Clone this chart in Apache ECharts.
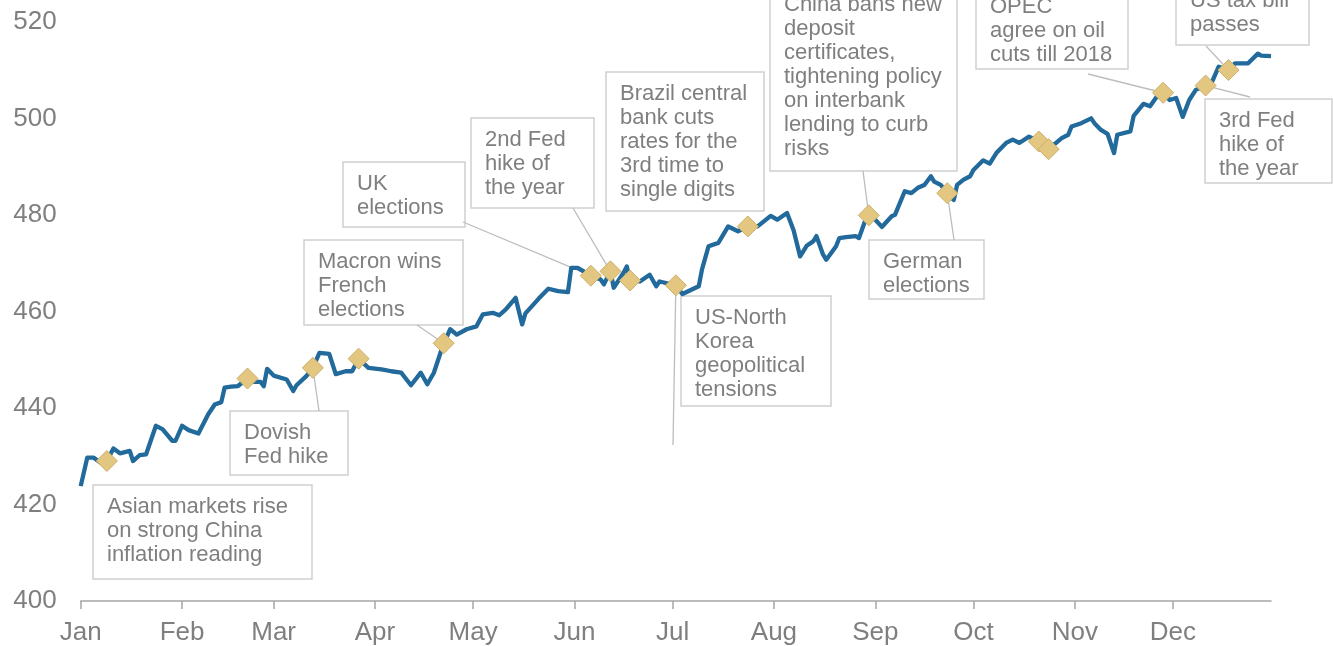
<!DOCTYPE html>
<html>
<head>
<meta charset="utf-8">
<script src="https://cdn.jsdelivr.net/npm/echarts@6/dist/echarts.min.js"></script>
<style>
  html, body { margin: 0; padding: 0; background: #fff; }
  #chart { width: 1333px; height: 646px; }
</style>
</head>
<body>
<div id="chart"></div>
<script>
// Index level through 2017
const dates = [
  '2017-01-01','2017-01-03','2017-01-05','2017-01-07','2017-01-09','2017-01-11','2017-01-13','2017-01-16',
  '2017-01-17','2017-01-19','2017-01-21','2017-01-24','2017-01-26','2017-01-29','2017-01-30',
  '2017-02-01','2017-02-03','2017-02-06','2017-02-09','2017-02-11','2017-02-13','2017-02-14','2017-02-16',
  '2017-02-18','2017-02-21','2017-02-23','2017-02-25','2017-02-26','2017-02-27',
  '2017-03-01','2017-03-05','2017-03-07','2017-03-08','2017-03-11','2017-03-13','2017-03-15','2017-03-18',
  '2017-03-20','2017-03-23','2017-03-25','2017-03-27','2017-03-30',
  '2017-04-03','2017-04-06','2017-04-09','2017-04-12','2017-04-15','2017-04-17','2017-04-19','2017-04-22',
  '2017-04-24','2017-04-26','2017-04-29',
  '2017-05-02','2017-05-04','2017-05-07','2017-05-09','2017-05-11','2017-05-14','2017-05-16','2017-05-17',
  '2017-05-21','2017-05-24','2017-05-27','2017-05-30','2017-05-31',
  '2017-06-02','2017-06-06','2017-06-09','2017-06-10','2017-06-11','2017-06-12','2017-06-13','2017-06-16',
  '2017-06-17','2017-06-18','2017-06-21','2017-06-24','2017-06-26','2017-06-27',
  '2017-07-02','2017-07-04','2017-07-09','2017-07-10','2017-07-12','2017-07-15','2017-07-18','2017-07-21',
  '2017-07-24','2017-07-27','2017-07-31',
  '2017-08-02','2017-08-05','2017-08-07','2017-08-09','2017-08-11','2017-08-13','2017-08-14','2017-08-16',
  '2017-08-17','2017-08-20','2017-08-21','2017-08-23','2017-08-26','2017-08-27','2017-08-29','2017-08-30',
  '2017-09-01','2017-09-03','2017-09-06','2017-09-07','2017-09-10','2017-09-12','2017-09-14','2017-09-16',
  '2017-09-18','2017-09-19','2017-09-21','2017-09-23','2017-09-25','2017-09-26','2017-09-28','2017-09-30',
  '2017-10-01','2017-10-04','2017-10-06','2017-10-08','2017-10-11','2017-10-13','2017-10-15','2017-10-18',
  '2017-10-19','2017-10-21','2017-10-24','2017-10-28','2017-10-30','2017-10-31',
  '2017-11-03','2017-11-06','2017-11-07','2017-11-09','2017-11-11','2017-11-13','2017-11-14','2017-11-18',
  '2017-11-19','2017-11-22','2017-11-24','2017-11-26','2017-11-28','2017-11-30',
  '2017-12-02','2017-12-04','2017-12-06','2017-12-08','2017-12-11','2017-12-13','2017-12-15','2017-12-18',
  '2017-12-20','2017-12-24','2017-12-27','2017-12-28','2017-12-31'
];
const values = [
  423.8,429.7,429.7,428.7,429.0,431.6,430.6,431.1,
  429.0,430.2,430.4,436.3,435.6,433.2,433.2,
  436.3,435.4,434.7,438.7,440.7,441.2,444.2,444.4,
  444.5,446.1,445.4,445.4,444.5,448.1,
  446.7,445.9,443.5,444.7,446.6,448.3,451.4,451.2,
  447.0,447.6,447.6,450.2,448.3,
  448.0,447.6,447.3,444.7,447.3,444.9,447.3,453.4,
  456.3,455.2,456.3,
  456.9,459.4,459.7,459.2,460.4,462.8,457.3,459.6,
  462.6,464.7,464.2,464.0,469.0,
  469.0,467.4,466.6,465.6,467.0,468.3,464.9,468.0,
  469.3,466.4,466.2,467.6,465.2,466.2,
  465.4,463.6,465.2,468.7,473.5,474.2,477.6,476.6,
  477.6,477.6,479.8,
  479.0,480.4,476.8,471.4,473.6,474.5,475.6,471.8,
  470.7,473.5,475.2,475.4,475.6,475.2,479.0,479.9,
  479.0,477.5,479.7,480.0,484.9,484.5,485.6,486.2,
  488.0,486.9,486.2,484.5,483.1,486.2,487.3,488.0,
  489.3,491.3,490.6,492.8,494.9,495.6,494.9,496.2,
  495.9,495.2,493.6,495.9,496.6,498.3,
  499.0,500.0,499.0,497.6,496.8,492.8,496.6,497.3,
  500.5,503.0,502.5,504.4,505.3,503.8,
  504.2,500.3,503.8,505.9,506.8,507.6,510.7,510.0,
  511.4,511.4,513.4,513.0,512.9
];

// Dates of the marked events
const eventDates = [
  '2017-01-09','2017-02-21','2017-03-13','2017-03-27','2017-04-22','2017-06-06','2017-06-12',
  '2017-06-18','2017-07-02','2017-07-24','2017-08-30','2017-09-23','2017-10-21','2017-10-24',
  '2017-11-28','2017-12-11','2017-12-18'
];

const monthLabels = ['Jan','Feb','Mar','Apr','May','Jun','Jul','Aug','Sep','Oct','Nov','Dec'];
const monthStarts = [
  '2017-01-01','2017-02-01','2017-03-01','2017-04-01','2017-05-01','2017-06-01',
  '2017-07-01','2017-08-01','2017-09-01','2017-10-01','2017-11-01','2017-12-01'
];
const axisStart = '2017-01-01';
const axisEnd = '2017-12-31';

// Callout texts and the event each one points at
const noteTexts = [
  { event: '2017-01-09', lines: ['Asian markets rise', 'on strong China', 'inflation reading'] },
  { event: '2017-03-13', lines: ['Dovish', 'Fed hike'] },
  { event: '2017-04-22', lines: ['Macron wins', 'French', 'elections'] },
  { event: '2017-06-06', lines: ['UK', 'elections'] },
  { event: '2017-06-12', lines: ['2nd Fed', 'hike of', 'the year'] },
  { event: '2017-06-18', lines: ['Brazil central', 'bank cuts', 'rates for the', '3rd time to', 'single digits'] },
  { event: '2017-07-02', lines: ['US-North', 'Korea', 'geopolitical', 'tensions'] },
  { event: '2017-08-30', lines: ['China bans new', 'deposit', 'certificates,', 'tightening policy', 'on interbank', 'lending to curb', 'risks'] },
  { event: '2017-09-23', lines: ['German', 'elections'] },
  { event: '2017-11-28', lines: ['OPEC', 'agree on oil', 'cuts till 2018'] },
  { event: '2017-12-18', lines: ['US tax bill', 'passes'] },
  { event: '2017-12-11', lines: ['3rd Fed', 'hike of', 'the year'] }
];

// Box rectangles [x, y, w, h] and leader-line anchors on the box edge (pixels)
const noteLayout = [
  { box: [93, 485, 219, 94],   anchor: null },
  { box: [230, 411, 118, 64],  anchor: [319, 411] },
  { box: [304, 240, 159, 85],  anchor: [417, 325] },
  { box: [343, 162, 122, 65],  anchor: [463, 222] },
  { box: [471, 118, 123, 90],  anchor: [573, 208] },
  { box: [606, 72, 158, 139],  anchor: null },
  { box: [681, 296, 150, 110], anchor: [673, 445] },
  { box: [770, -17, 187, 188], anchor: [863, 171] },
  { box: [869, 240, 115, 59],  anchor: [954, 240] },
  { box: [976, -15, 152, 84],  anchor: [1088, 74] },
  { box: [1176, -21, 133, 66], anchor: [1206, 46] },
  { box: [1205, 99, 127, 84],  anchor: [1250, 97] }
];

const FONT = '"Liberation Sans", Arial, sans-serif';
const GREY_TEXT = '#7f7f7f';

const toTime = s => +echarts.time.parse(s);

const chart = echarts.init(document.getElementById('chart'), null, { renderer: 'canvas' });

const lineData = dates.map((d, i) => [toTime(d), values[i]]);
const eventData = eventDates.map(d => [toTime(d), values[dates.indexOf(d)]]);
const monthTicks = monthStarts.map(toTime);

chart.setOption({
  animation: false,
  backgroundColor: '#ffffff',
  grid: { left: 80.7, right: 62, top: 21.8, bottom: 44, containLabel: false },
  xAxis: {
    type: 'value',
    min: toTime(axisStart),
    max: toTime(axisEnd),
    axisLine: { show: true, lineStyle: { color: '#a6a6a6', width: 1.5 } },
    axisTick: { show: true, length: 8, lineStyle: { color: '#a6a6a6', width: 1.5 }, customValues: monthTicks },
    axisLabel: {
      customValues: monthTicks,
      fontFamily: FONT, fontSize: 26, color: GREY_TEXT, margin: 19,
      formatter: v => monthLabels[new Date(v).getMonth()]
    },
    splitLine: { show: false }
  },
  yAxis: {
    type: 'value',
    min: 400, max: 520, interval: 20,
    axisLine: { show: false },
    axisTick: { show: false },
    splitLine: { show: false },
    axisLabel: { fontFamily: FONT, fontSize: 26, color: GREY_TEXT, margin: 24 }
  },
  series: [
    {
      type: 'line',
      data: lineData,
      showSymbol: false,
      lineStyle: { color: '#216a9b', width: 4.3, join: 'round' },
      z: 3
    },
    {
      type: 'scatter',
      data: eventData,
      symbol: 'diamond',
      symbolSize: 21,
      itemStyle: { color: '#e3c67f', borderColor: '#cbb06c', borderWidth: 1, opacity: 1 },
      z: 4
    }
  ]
});

// Callout boxes, texts and leader lines
const elements = [];
noteTexts.forEach((note, i) => {
  const lay = noteLayout[i];
  const [bx, by, bw, bh] = lay.box;
  elements.push({
    type: 'rect', z: 0,
    shape: { x: bx, y: by, width: bw, height: bh },
    style: { fill: '#ffffff', stroke: '#cfcfcf', lineWidth: 1.5 }
  });
  elements.push({
    type: 'text', z: 1,
    x: bx + 14, y: by + 9.5,
    style: {
      text: note.lines.join('\n'),
      font: '22px ' + FONT,
      fill: GREY_TEXT,
      lineHeight: 24,
      verticalAlign: 'top',
      align: 'left'
    }
  });
  if (lay.anchor) {
    const idx = dates.indexOf(note.event);
    const p = chart.convertToPixel({ seriesIndex: 0 }, [toTime(dates[idx]), values[idx]]);
    elements.push({
      type: 'line', z: 1,
      shape: { x1: lay.anchor[0], y1: lay.anchor[1], x2: p[0], y2: p[1] },
      style: { stroke: '#bdbdbd', lineWidth: 1.3 }
    });
  }
});

chart.setOption({ graphic: { elements: elements } });
</script>
</body>
</html>
